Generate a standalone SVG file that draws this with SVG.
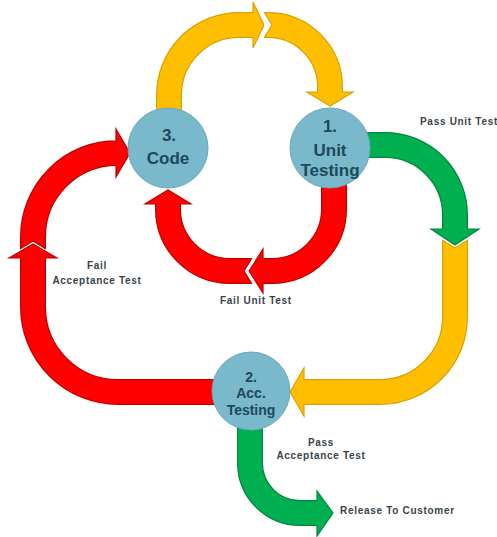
<svg xmlns="http://www.w3.org/2000/svg" width="497" height="537" viewBox="0 0 497 537">
<style>
.bo{fill:none;stroke-width:26;stroke-linecap:butt}
.bf{fill:none;stroke-width:23.5;stroke-linecap:butt}
.yo{stroke:#D9A200}.yf{stroke:#FFBF00}.yh{fill:#FFBF00;stroke:#D9A200;stroke-width:1.2}
.ro{stroke:#C00000}.rf{stroke:#FF0000}.rh{fill:#FF0000;stroke:#C00000;stroke-width:1.2}
.go{stroke:#00873C}.gf{stroke:#00B050}.gh{fill:#00B050;stroke:#00873C;stroke-width:1.2}
.notch{fill:#FFFFFF;stroke-width:1.2}
.node{fill:#7AB8CC;stroke:#6AA8BC;stroke-width:1}
.nt{font-family:"Liberation Sans",Arial,sans-serif;font-weight:bold;fill:#1B4A5A;text-anchor:middle}
.lbl{font-family:"Liberation Sans",Arial,sans-serif;font-weight:bold;font-size:10px;letter-spacing:0.7px;fill:#3A4448}
</style>
<rect width="497" height="537" fill="#FFFFFF"/>
<g id="connectors">
  <!-- yellow top-left: Code up to top -->
  <g id="a1">
    <path class="bo yo" d="M169,130 L169,95 A70,70 0 0 1 239,25 L253,25"/>
    <polygon class="yh" points="253,2 264,25 253,48"/>
    <path class="bf yf" d="M169,130 L169,95 A70,70 0 0 1 239,25 L254,25"/>
  </g>
  <!-- yellow top-right: to Unit Testing -->
  <g id="a2">
    <path class="bo yo" d="M265,25 L268,25 A62,62 0 0 1 330,87 L330,92"/>
    <polygon class="yh" points="307,92 353,92 330,106"/>
    <path class="bf yf" d="M265,25 L268,25 A62,62 0 0 1 330,87 L330,93"/>
    <polyline class="notch yo" points="264,12 272,25 264,38"/>
  </g>
  <!-- yellow right: to Acc Testing -->
  <g id="a4">
    <path class="bo yo" d="M455,241 L455,317 A75,75 0 0 1 380,392 L304,392"/>
    <polygon class="yh" points="304,368 304,416 290,392"/>
    <path class="bf yf" d="M455,241 L455,317 A75,75 0 0 1 380,392 L303,392"/>
    <polyline class="notch yo" points="442,240 455,248 468,240"/>
  </g>
  <!-- green: Unit Testing pass -->
  <g id="a3">
    <path class="bo go" d="M350,145 L385,145 A70,70 0 0 1 455,215 L455,229"/>
    <polygon class="gh" points="431,229 479,229 455,245"/>
    <path class="bf gf" d="M350,145 L385,145 A70,70 0 0 1 455,215 L455,230"/>
  </g>
  <!-- red big left upper: to Code -->
  <g id="a6">
    <path class="bo ro" d="M33,248 L33,237 A84,84 0 0 1 117,153 L116,153"/>
    <polygon class="rh" points="116,129 130,153 116,177"/>
    <path class="bf rf" d="M33,248 L33,237 A84,84 0 0 1 117,153"/>
    <polyline class="notch ro" points="20,249 33,241 46,249"/>
  </g>
  <!-- red big lower: from Acc Testing -->
  <g id="a5">
    <path class="bo ro" d="M230,392 L118,392 A85,85 0 0 1 33,307 L33,258"/>
    <polygon class="rh" points="9,258 57,258 33,244"/>
    <path class="bf rf" d="M230,392 L118,392 A85,85 0 0 1 33,307 L33,257"/>
  </g>
  <!-- red inner left: to Code bottom -->
  <g id="a8">
    <path class="bo ro" d="M251,271 L230,271 A62,62 0 0 1 168,209 L168,204"/>
    <polygon class="rh" points="145,204 191,204 168,190"/>
    <path class="bf rf" d="M251,271 L230,271 A62,62 0 0 1 168,209 L168,203"/>
    <polyline class="notch ro" points="252,258 244,271 252,284"/>
  </g>
  <!-- red inner right: from Unit Testing -->
  <g id="a7">
    <path class="bo ro" d="M334,170 L334,209 A62,62 0 0 1 272,271 L263,271"/>
    <polygon class="rh" points="263,249 263,293 249,271"/>
    <path class="bf rf" d="M334,170 L334,209 A62,62 0 0 1 272,271 L262,271"/>
  </g>
  <!-- green bottom: release -->
  <g id="a9">
    <path class="bo go" d="M250,420 L250,463 A50,50 0 0 0 300,513 L317,513"/>
    <polygon class="gh" points="317,491 333,513 317,536"/>
    <path class="bf gf" d="M250,420 L250,463 A50,50 0 0 0 300,513 L318,513"/>
  </g>
</g>
<g id="node-code">
  <circle class="node" cx="168" cy="148" r="40"/>
  <text class="nt" x="169" y="141" font-size="17">3.</text>
  <text class="nt" x="168" y="164" font-size="17">Code</text>
</g>
<g id="node-unit">
  <circle class="node" cx="330" cy="148" r="40"/>
  <text class="nt" x="330" y="132" font-size="17">1.</text>
  <text class="nt" x="330" y="156" font-size="17">Unit</text>
  <text class="nt" x="330" y="176" font-size="17">Testing</text>
</g>
<g id="node-acc">
  <circle class="node" cx="251" cy="391" r="39"/>
  <text class="nt" x="251" y="382" font-size="14">2.</text>
  <text class="nt" x="251" y="398" font-size="14">Acc.</text>
  <text class="nt" x="251" y="415" font-size="14">Testing</text>
</g>
<g id="labels">
  <text class="lbl" x="420" y="125">Pass Unit Test</text>
  <text class="lbl" x="220" y="304">Fail Unit Test</text>
  <text class="lbl" x="97" y="269" text-anchor="middle">Fail</text>
  <text class="lbl" x="97" y="284" text-anchor="middle">Acceptance Test</text>
  <text class="lbl" x="321" y="446" text-anchor="middle">Pass</text>
  <text class="lbl" x="321" y="459" text-anchor="middle">Acceptance Test</text>
  <text class="lbl" x="340" y="514">Release To Customer</text>
</g>
</svg>
